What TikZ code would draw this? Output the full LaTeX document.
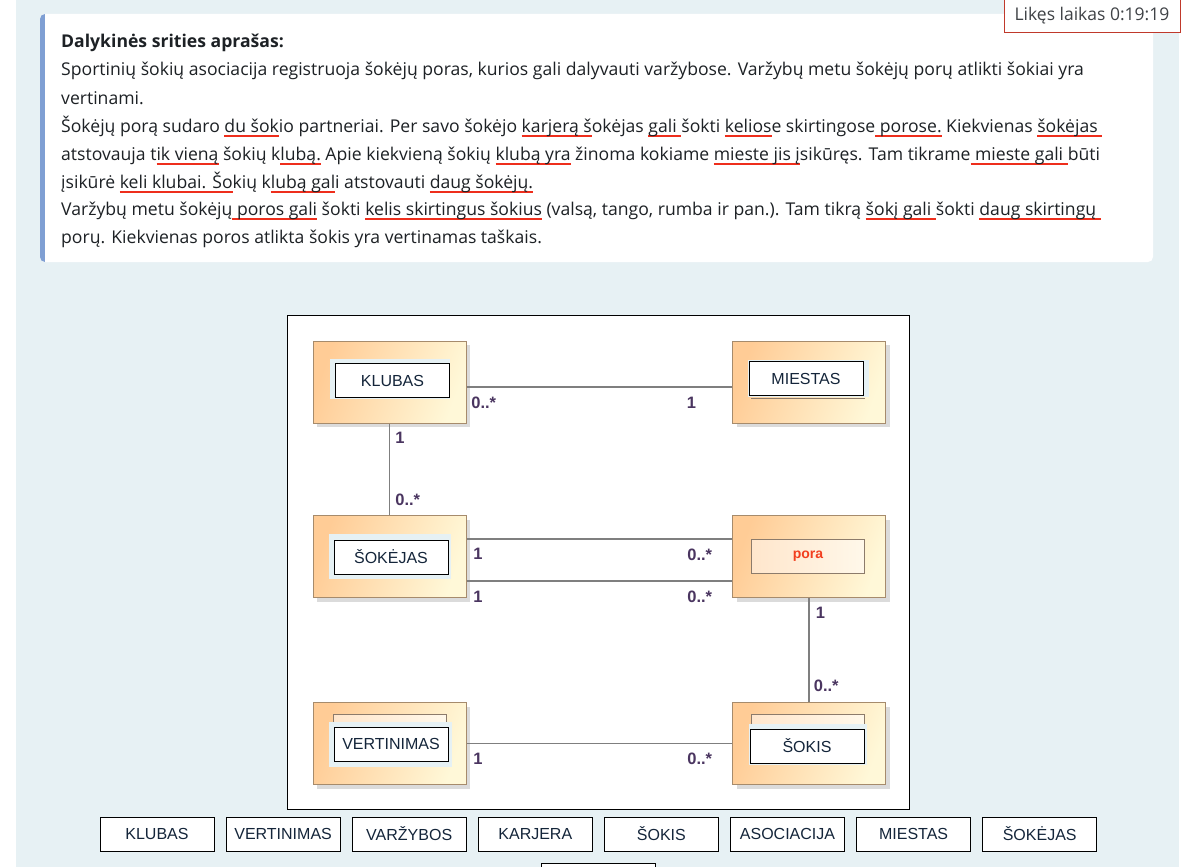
\documentclass[tikz,border=0pt]{standalone}
\usepackage{fontspec}
\setmainfont{Open Sans}
\newfontfamily\arialfont{Liberation Sans}
\usetikzlibrary{positioning,shadows}

\definecolor{pagebg}{HTML}{E7F1F4}
\definecolor{barblue}{HTML}{7F9FD3}
\definecolor{timerred}{HTML}{C0392B}
\definecolor{textcol}{HTML}{1D2125}
\definecolor{ulred}{HTML}{EE2E1C}
\definecolor{clsleft}{HTML}{FFCC96}
\definecolor{clsright}{HTML}{FFF8D8}
\definecolor{clsborder}{HTML}{A68B6C}
\definecolor{namebgcol}{HTML}{E6F1F4}
\definecolor{namecol}{HTML}{14253A}
\definecolor{innerleft}{HTML}{FFE6CC}
\definecolor{innerright}{HTML}{FFF8EA}
\definecolor{innerborder}{HTML}{8C7B6B}
\definecolor{poracol}{HTML}{F23F1F}
\definecolor{assoccol}{HTML}{7F7F7F}
\definecolor{multcol}{HTML}{4A3560}

% red marks under words
\newcommand\redul[1]{\setbox0\hbox{#1}\rlap{\color{ulred}\rule[-5pt]{\wd0}{1.6pt}}\box0\relax}

\tikzset{
  bodytext/.style={anchor=base west, inner sep=0pt, text=textcol,
    font=\fontsize{17.6}{20}\selectfont},
  timerbox/.style={draw=timerred, fill=white, line width=0.8pt,
    minimum width=176pt, minimum height=33pt, text=textcol!85,
    font=\fontsize{17.5}{20}\selectfont},
  classbox/.style={draw=clsborder, line width=1pt, left color=clsleft,
    right color=clsright, shading angle=70, minimum width=153pt,
    minimum height=82pt, inner sep=0pt,
    drop shadow={shadow xshift=4pt, shadow yshift=-4pt, fill=black!28}},
  namebg/.style 2 args={fill=namebgcol, minimum width=#1,
    minimum height=#2, inner sep=0pt},
  namebox/.style={draw=black, fill=white, line width=0.8pt,
    minimum width=114pt, minimum height=34pt, inner sep=0pt,
    text=namecol, font=\arialfont\fontsize{16}{16}\selectfont},
  innerbox/.style={draw=innerborder, line width=0.8pt, left color=innerleft,
    right color=innerright, minimum width=113pt, inner sep=0pt},
  assoc/.style={draw=assoccol, line width=1.7pt},
  mult/.style={inner sep=0pt, text=multcol,
    font=\arialfont\bfseries\fontsize{16.5}{16.5}\selectfont},
  chip/.style={draw=black, fill=white, line width=0.8pt,
    minimum width=114pt, minimum height=34pt, inner sep=0pt,
    text=namecol, font=\arialfont\fontsize{16}{16}\selectfont}
}

\begin{document}
\begin{tikzpicture}[x=1pt,y=-1pt]
  \useasboundingbox (0,0) rectangle (1189,867);
  \fill[white] (0,0) rectangle (1189,867);
  \fill[pagebg] (16,0) rectangle (1179,867);

  % description card
  \fill[white, rounded corners=5pt] (40,14) rectangle (1153,262);
  \begin{scope}
    \clip[rounded corners=5pt] (40,14) rectangle (1153,262);
    \fill[barblue] (40,14) rectangle (45,262);
  \end{scope}
  \node[timerbox] (timer) at (1092,15.5) {Likęs laikas 0:19:19};

  \node[bodytext] (line1) at (61,48) {\bfseries Dalykinės srities aprašas:};
  \node[bodytext] (line2) at (61,76) {Sportinių šokių asociacija registruoja šokėjų poras, kurios gali dalyvauti varžybose. Varžybų metu šokėjų porų atlikti šokiai yra};
  \node[bodytext] (line3) at (61,104) {vertinami.};
  \node[bodytext] (line4) at (61,132) {Šokėjų porą sudaro \redul{du šok}io partneriai. Per savo šokėjo \redul{karjerą š}okėjas \redul{gali }šokti \redul{kelios}e skirtingose\redul{ porose.} Kiekvienas \redul{šokėjas }};
  \node[bodytext] (line5) at (61,160) {atstovauja t\redul{ik vieną} šokių k\redul{lubą.} Apie kiekvieną šokių \redul{klubą yra} žinoma kokiame \redul{mieste jis į}sikūręs. Tam tikrame\redul{ mieste gali }būti};
  \node[bodytext] (line6) at (61,188) {įsikūrė \redul{keli klubai. Šo}kių k\redul{lubą gal}i atstovauti \redul{daug šokėjų.}};
  \node[bodytext] (line7) at (61,215) {Varžybų metu šokėjų\redul{ poros gali} šokti \redul{kelis skirtingus šokius} (valsą, tango, rumba ir pan.). Tam tikrą \redul{šokį gali }šokti \redul{daug skirtingų }};
  \node[bodytext] (line8) at (61,243) {porų. Kiekvienas poros atlikta šokis yra vertinamas taškais.};

  % diagram panel
  \draw[line width=0.8pt, fill=white] (287,315) rectangle (909,809);

  \node[classbox] (klubas) at (389.5,382) {};
  \node[classbox] (miestas) at (809,382) {};
  \node[classbox] (sokejas) at (389.5,556.5) {};
  \node[classbox] (pora) at (809,556.5) {};
  \node[classbox] (vertinimas) at (389.5,743.5) {};
  \node[classbox] (sokis) at (809,743.5) {};

  \node[namebg={120pt}{40pt}] at (390,379) {};
  \node[namebox] (klubas-name) at (392.5,380.5) {KLUBAS};

  \draw[innerborder, line width=0.8pt] (751,398) -- (865,398);
  \node[namebg={121pt}{37pt}] at (808.5,378.5) {};
  \node[namebox] (miestas-name) at (806,378.5) {MIESTAS};

  \node[namebg={122pt}{45pt}] at (390,556.5) {};
  \node[namebox] (sokejas-name) at (391,557) {ŠOKĖJAS};

  \node[innerbox, minimum height=34pt, text=poracol,
    font=\arialfont\bfseries\fontsize{14}{14}\selectfont] (pora-name) at (808,556) {pora};

  \node[innerbox, minimum height=26pt] at (389.5,727) {};
  \node[namebg={123pt}{45pt}] at (390.5,744.5) {};
  \node[namebox] (vertinimas-name) at (391,744) {VERTINIMAS};

  \node[innerbox, minimum height=26pt] at (807.5,727) {};
  \node[namebg={118pt}{41pt}] at (808,744.5) {};
  \node[namebox] (sokis-name) at (807,746) {ŠOKIS};

  % associations
  \draw[assoc] ([yshift=-5pt]klubas.east) --
    node[mult, at start, anchor=north west, xshift=4pt, yshift=-9pt] {0..*}
    node[mult, at end, anchor=north east, xshift=-35pt, yshift=-9pt] {1}
    ([yshift=-5pt]miestas.west);
  \draw[assoc] (klubas.south) --
    node[mult, at start, anchor=north west, xshift=5pt, yshift=-8pt] {1}
    node[mult, at end, anchor=south west, xshift=5pt, yshift=8.5pt] {0..*}
    (sokejas.north);
  \draw[assoc] ([yshift=17.5pt]sokejas.east) --
    node[mult, at start, anchor=north west, xshift=6pt, yshift=-8pt] {1}
    node[mult, at end, anchor=north east, xshift=-19pt, yshift=-9pt] {0..*}
    ([yshift=17.5pt]pora.west);
  \draw[assoc] ([yshift=-24.5pt]sokejas.east) --
    node[mult, at start, anchor=north west, xshift=6pt, yshift=-9pt] {1}
    node[mult, at end, anchor=north east, xshift=-19pt, yshift=-9pt] {0..*}
    ([yshift=-24.5pt]pora.west);
  \draw[assoc] (pora.south) --
    node[mult, at start, anchor=north west, xshift=6pt, yshift=-8.5pt] {1}
    node[mult, at end, anchor=south west, xshift=4pt, yshift=9.5pt] {0..*}
    (sokis.north);
  \draw[assoc] (vertinimas.east) --
    node[mult, at start, anchor=north west, xshift=6pt, yshift=-9pt] {1}
    node[mult, at end, anchor=north east, xshift=-19pt, yshift=-9pt] {0..*}
    (sokis.west);

  % answer chips
  \node[chip] (chip-klubas) at (157,834) {KLUBAS};
  \node[chip, right=11.3pt of chip-klubas] (chip-vertinimas) {VERTINIMAS};
  \node[chip, right=11.3pt of chip-vertinimas] (chip-varzybos) {VARŽYBOS};
  \node[chip, right=11.3pt of chip-varzybos] (chip-karjera) {KARJERA};
  \node[chip, right=11.3pt of chip-karjera] (chip-sokis) {ŠOKIS};
  \node[chip, right=11.3pt of chip-sokis] (chip-asociacija) {ASOCIACIJA};
  \node[chip, right=11.3pt of chip-asociacija] (chip-miestas) {MIESTAS};
  \node[chip, right=11.3pt of chip-miestas] (chip-sokejas) {ŠOKĖJAS};
  \node[chip, anchor=north] (chip-next) at (598,863) {};
\end{tikzpicture}
\end{document}
